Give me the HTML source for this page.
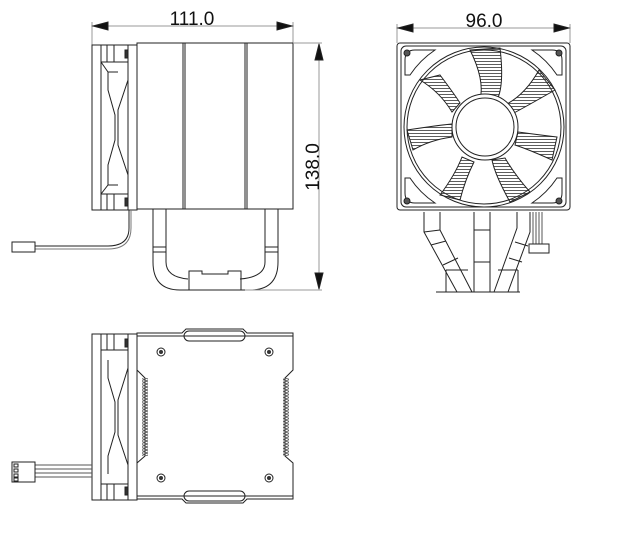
<!DOCTYPE html>
<html><head><style>
html,body{margin:0;padding:0;background:#fff;}
svg{display:block}
text{font-family:"Liberation Sans",sans-serif;fill:#111}
</style></head><body>
<svg width="640" height="553" viewBox="0 0 640 553" xmlns="http://www.w3.org/2000/svg">
<defs>
<pattern id="hatch" width="3" height="3" patternUnits="userSpaceOnUse"><line x1="0" y1="1.5" x2="3" y2="1.5" stroke="#333" stroke-width="0.8"/></pattern>
<pattern id="serr" width="5" height="3" patternUnits="userSpaceOnUse"><path d="M0 0 L5 1.5 L0 3" fill="none" stroke="#444" stroke-width="0.7"/></pattern>
</defs>
<g fill="none" stroke="#222" stroke-width="1">
<!-- ===== Side view ===== -->
<line x1="92" y1="26" x2="293" y2="26" stroke="#999"/>
<line x1="92" y1="22" x2="92" y2="45" stroke="#999"/>
<line x1="293" y1="22" x2="293" y2="43" stroke="#999"/>
<path d="M93 26 L108 22 L108 30Z M292 26 L277 22 L277 30Z" fill="#111"/>
<rect x="92" y="45" width="45" height="165"/>
<line x1="101" y1="45" x2="101" y2="210"/>
<line x1="128" y1="45" x2="128" y2="210"/>
<line x1="107" y1="45" x2="107" y2="62"/><line x1="114" y1="45" x2="114" y2="62"/>
<line x1="107" y1="194" x2="107" y2="210"/><line x1="114" y1="194" x2="114" y2="210"/>
<rect x="125" y="50" width="3" height="8" fill="#333"/><rect x="125" y="198" width="3" height="8" fill="#333"/>
<path d="M101 62 L128 62 L128 80 L118 110 L118 145 L128 175 L128 194 L101 194"/>
<path d="M101 62 L108 72 L118 72 M101 194 L108 185 L118 185"/>
<path d="M108 72 L108 90 L115 115 L115 140 L108 165 L108 185"/>
<rect x="137" y="43" width="156" height="166"/>
<line x1="183" y1="43" x2="183" y2="209"/><line x1="185" y1="43" x2="185" y2="209"/>
<line x1="245" y1="43" x2="245" y2="209"/><line x1="247" y1="43" x2="247" y2="209"/>
<path d="M153 209 L153 262 Q153 290 180 290 L250 290 Q278 290 278 262 L278 209"/>
<path d="M166 209 L166 262 Q166 277 188 279 M240 279 Q265 277 265 262 L265 209"/>
<path d="M153 247 L166 247 M153 252 L166 252 M265 247 L278 247 M265 252 L278 252"/>
<path d="M189 290 L189 271 L202 271 L202 274 L228 274 L228 271 L241 271 L241 290"/>
<path d="M129 210 L129 228 Q129 246 108 246 L35 246"/>
<path d="M131 210 L131 228 Q131 249 108 249 L35 249" stroke="#777"/>
<rect x="12" y="242" width="23" height="10"/>
<line x1="20" y1="252" x2="24" y2="252"/>
<line x1="293" y1="43" x2="322" y2="43" stroke="#999"/>
<line x1="245" y1="290" x2="322" y2="290" stroke="#999"/>
<line x1="319" y1="43" x2="319" y2="290" stroke="#999"/>
<path d="M319 44 L315 60 L323 60Z M319 289 L315 273 L323 273Z" fill="#111"/>

<!-- ===== Front view ===== -->
<line x1="397" y1="28" x2="570" y2="28" stroke="#999"/>
<line x1="397" y1="24" x2="397" y2="43" stroke="#999"/>
<line x1="570" y1="24" x2="570" y2="43" stroke="#999"/>
<path d="M398 28 L413 24 L413 32Z M569 28 L554 24 L554 32Z" fill="#111"/>
<rect x="397" y="43" width="173" height="167" rx="3"/>
<rect x="401" y="46" width="165" height="161" rx="5"/>
<path d="M415 50 L435 50 Q420 60 410 75 L405 75 L405 60 Q405 50 415 50Z"/>
<path d="M552 50 L532 50 Q547 60 557 75 L562 75 L562 60 Q562 50 552 50Z"/>
<path d="M415 203 L435 203 Q420 193 410 178 L405 178 L405 193 Q405 203 415 203Z"/>
<path d="M552 203 L532 203 Q547 193 557 178 L562 178 L562 193 Q562 203 552 203Z"/>
<circle cx="484" cy="127" r="80"/>
<circle cx="484" cy="127" r="77"/>
<g fill="url(#hatch)" stroke="#222">
<path d="M470 50 L500 48 Q505 90 495 103 L480 100 Q485 80 470 50Z"/>
<path d="M539 70 L555 90 Q520 110 510 115 L505 105 Q525 95 539 70Z"/>
<path d="M557 137 L552 160 Q530 150 515 145 L518 132 Q540 135 557 137Z"/>
<path d="M530 192 L510 202 Q495 175 492 160 L505 158 Q515 175 530 192Z"/>
<path d="M460 200 L440 195 Q455 175 462 157 L474 162 Q465 180 460 200Z"/>
<path d="M413 150 L407 130 Q440 125 452 124 L452 137 Q430 140 413 150Z"/>
<path d="M420 80 L440 75 Q455 95 460 103 L452 112 Q440 92 420 80Z"/>
</g>
<circle cx="485" cy="127" r="33" fill="#fff"/>
<circle cx="485" cy="127" r="29"/>
<g fill="#555" stroke="#222"><circle cx="407" cy="53" r="3"/><circle cx="559" cy="53" r="3"/><circle cx="407" cy="201" r="3"/><circle cx="559" cy="201" r="3"/></g>
<path d="M424 212 L424 232 L457 292 M440 212 L440 230 L472 292"/>
<path d="M424 232 L440 230 M431 245 L446 241 M443 265 L458 258"/>
<path d="M474 212 L474 292 M490 212 L490 292 M474 230 L490 230 M474 262 L490 262"/>
<path d="M530 212 L530 232 L508 292 M517 212 L517 228 L494 292"/>
<path d="M509 258 L522 262 M515 242 L528 246"/>
<path d="M446 270 L446 292 M518 270 L518 292 M446 270 L468 270 M498 270 L518 270"/>
<line x1="436" y1="292" x2="520" y2="292"/>
<path d="M533 212 L533 244 M536 212 L536 244 M539 212 L539 244 M542 212 L542 244" stroke="#555"/>
<rect x="529" y="244" width="20" height="9"/>

<!-- ===== Bottom view ===== -->
<rect x="92" y="334" width="45" height="166"/>
<line x1="101" y1="334" x2="101" y2="500"/>
<line x1="128" y1="334" x2="128" y2="500"/>
<line x1="107" y1="334" x2="107" y2="350"/><line x1="114" y1="334" x2="114" y2="350"/>
<line x1="107" y1="484" x2="107" y2="500"/><line x1="114" y1="484" x2="114" y2="500"/>
<rect x="125" y="339" width="3" height="8" fill="#333"/><rect x="125" y="487" width="3" height="8" fill="#333"/>
<path d="M101 350 L128 350 L128 368 L118 400 L118 435 L128 465 L128 484 L101 484"/>
<path d="M108 360 L108 378 L115 402 L115 432 L108 456 L108 474"/>
<path d="M137 333 L182 333 L186 329 L243 329 L247 333 L293 333 L293 370 L285 378 L285 456 L293 463 L293 499 L247 499 L243 503 L186 503 L182 499 L137 499 L137 463 L145 456 L145 378 L137 370 Z"/>
<path d="M137 336 L293 336 M137 496 L293 496"/>
<rect x="184" y="331" width="61" height="10" rx="5"/>
<rect x="184" y="491" width="61" height="10" rx="5"/>
<rect x="142" y="378" width="6" height="78" fill="url(#serr)" stroke="none"/>
<rect x="283" y="378" width="6" height="78" fill="url(#serr)" stroke="none"/>
<g><circle cx="161" cy="352" r="4"/><circle cx="269" cy="352" r="4"/><circle cx="161" cy="478" r="4"/><circle cx="269" cy="478" r="4"/></g>
<g fill="#333" stroke="none"><circle cx="161" cy="352" r="2"/><circle cx="269" cy="352" r="2"/><circle cx="161" cy="478" r="2"/><circle cx="269" cy="478" r="2"/></g>
<path d="M35 465 L92 465 M35 469 L92 469 M35 473 L92 473 M35 477 L92 477" stroke="#555"/>
<rect x="12" y="462" width="23" height="20"/>
<path d="M14 464 h4 v3 h-4z M14 469 h4 v3 h-4z M14 474 h4 v3 h-4z M14 478 h4 v3 h-4z"/>
</g>
<text x="192" y="25" font-size="19" text-anchor="middle">111.0</text>
<text x="484" y="27" font-size="19" text-anchor="middle">96.0</text>
<text transform="translate(319,167) rotate(-90)" font-size="19" text-anchor="middle">138.0</text>
</svg>
</body></html>
